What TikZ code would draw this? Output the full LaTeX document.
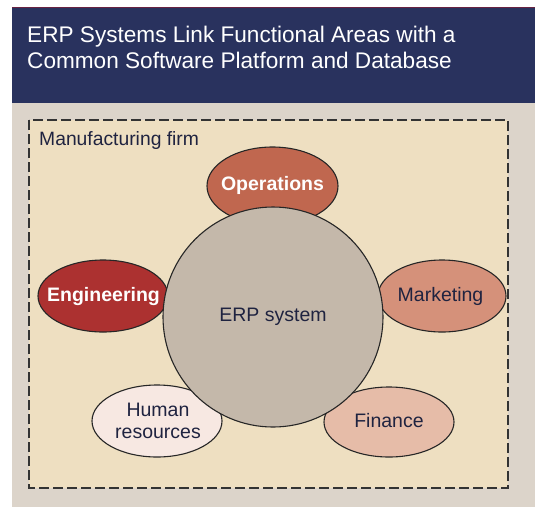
\documentclass[tikz,border=0pt]{standalone}
\usepackage{fontspec}
\setmainfont{Liberation Sans}
\usetikzlibrary{shapes.geometric}
\definecolor{navy}{HTML}{29325E}
\definecolor{panel}{HTML}{DCD4CA}
\definecolor{beige}{HTML}{EEDFC1}
\definecolor{erpgray}{HTML}{C4B8AA}
\definecolor{opscol}{HTML}{C0674F}
\definecolor{engcol}{HTML}{AC3130}
\definecolor{mktcol}{HTML}{D5917A}
\definecolor{hrcol}{HTML}{F7E8E2}
\definecolor{fincol}{HTML}{E6BCA8}
\definecolor{txt}{HTML}{1F2340}
\tikzset{
  area/.style={ellipse, draw=black!85, line width=1.1pt, inner sep=0pt,
    minimum width=130pt, minimum height=72pt},
  areatext/.style={text=txt, align=center, inner sep=0pt,
    font=\fontsize{19.5}{22}\selectfont},
  boldtext/.style={areatext, text=white, font=\fontsize{19.5}{22}\selectfont\bfseries},
  hub/.style={circle, draw=black!85, line width=1.1pt, fill=erpgray, inner sep=0pt,
    minimum size=220pt, text=txt, font=\fontsize{19.5}{22}\selectfont},
  firmbox/.style={draw=black!80, line width=1.3pt, dash pattern=on 10pt off 4pt, fill=beige},
  headtext/.style={anchor=base west, text=white, font=\fontsize{22.6}{26}\selectfont, inner sep=0pt}
}
\begin{document}
\begin{tikzpicture}[x=1pt,y=-1pt]
\useasboundingbox (0,0) rectangle (535,507);
\fill[white] (0,0) rectangle (535,507);
\fill[panel] (12,7) rectangle (535,507);
\fill[navy] (12,7) rectangle (535,103);
\draw[color=navy!70!red, line width=0.8pt] (12,7.4) -- (535,7.4);
\node[headtext] (t1) at (27,42) {ERP Systems Link Functional Areas with a};
\node[headtext] (t2) at (27,68) {Common Software Platform and Database};
\draw[firmbox] (29,120) rectangle (508,488);
\node[anchor=base west, text=txt, font=\fontsize{19.3}{22}\selectfont, inner sep=0pt] (firm) at (39,145) {Manufacturing firm};
\node[area, fill=opscol, minimum height=78pt, minimum width=131pt] (ops) at (272.5,186) {};
\node[boldtext] (opst) at (272.5,185) {Operations};
\node[area, fill=engcol] (eng) at (103,296) {};
\node[boldtext] (engt) at (103.5,296) {Engineering};
\node[area, fill=mktcol, minimum width=128pt] (mkt) at (442,296) {};
\node[areatext] (mktt) at (440.5,296) {Marketing};
\node[area, fill=hrcol] (hr) at (157,421) {};
\node[areatext] (hrt) at (158,421) {Human\\resources};
\node[area, fill=fincol, minimum height=70pt] (fin) at (389,422) {};
\node[areatext] (fint) at (389,421) {Finance};
\node[hub] (erp) at (273,317) {ERP system};
\end{tikzpicture}
\end{document}
